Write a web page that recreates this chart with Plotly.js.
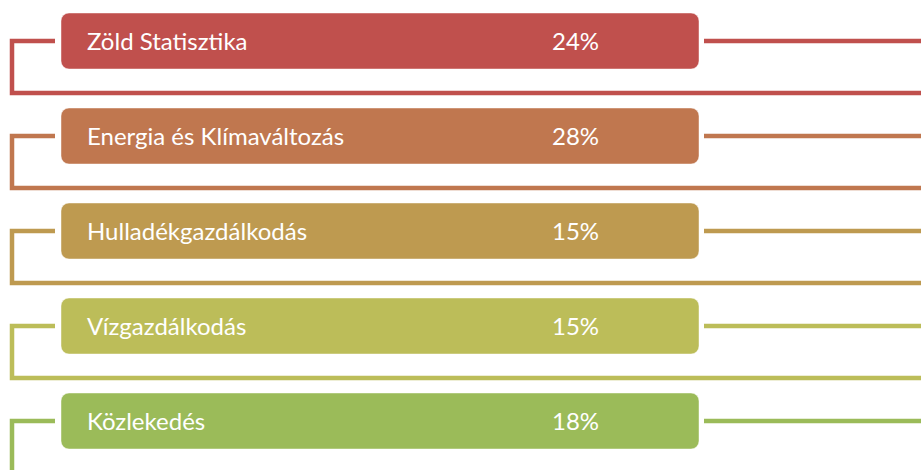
<!DOCTYPE html>
<html><head><meta charset="utf-8">
<script src="https://cdn.plot.ly/plotly-3.0.1.min.js"></script>
<style>html,body{margin:0;padding:0;background:#fff;}#chart{width:921px;height:470px;}</style>
</head><body><div id="chart"></div>
<script>
// Data
const categories = ["Zöld Statisztika", "Energia és Klímaváltozás", "Hulladékgazdálkodás", "Vízgazdálkodás", "Közlekedés"];
const shares = [24, 28, 15, 15, 18];
const colors = ["#C0504D", "#C0774F", "#BE9A50", "#BCBD59", "#9BBB59"];

// Layout geometry (pixel-like x units, row units in y)
const W = 921, H = 470;
const rowPx = 95, firstCenterPx = 41;
const boxLeft = 61, boxRight = 699, boxH = 56 / rowPx;
const stubLeft = 12, stubRight = 55, rightStart = 704;
const drop = 52 / rowPx;
const idx = categories.map((_, i) => i);

const traces = [];
// Boxes as horizontal bars with rounded corners
traces.push({
  type: 'bar', orientation: 'h',
  y: idx, x: idx.map(() => boxRight - boxLeft), base: boxLeft,
  width: boxH,
  marker: { color: colors, cornerradius: 8, line: { color: 'rgba(255,255,255,0.45)', width: 1 } },
  hoverinfo: 'skip', showlegend: false
});
// Connector lines
idx.forEach(i => {
  traces.push({
    type: 'scatter', mode: 'lines',
    x: [stubRight, stubLeft, stubLeft, W + 5],
    y: [i, i, i + drop, i + drop],
    line: { color: colors[i], width: 4.5 },
    hoverinfo: 'skip', showlegend: false
  });
  traces.push({
    type: 'scatter', mode: 'lines',
    x: [rightStart, W + 5], y: [i, i],
    line: { color: colors[i], width: 4.5 },
    hoverinfo: 'skip', showlegend: false
  });
});

const font = { family: 'Lato, "Open Sans", sans-serif', size: 24, color: '#fff' };
const annotations = [];
idx.forEach(i => {
  annotations.push({ x: 85, y: i, xref: 'x', yref: 'y', text: categories[i], showarrow: false,
    xanchor: 'left', yanchor: 'middle', font: font, yshift: 1 });
  annotations.push({ x: 575, y: i, xref: 'x', yref: 'y', text: shares[i] + '%', showarrow: false,
    xanchor: 'center', yanchor: 'middle', font: font, yshift: 1 });
});

const layout = {
  width: W, height: H,
  margin: { l: 0, r: 0, t: 0, b: 0 },
  paper_bgcolor: '#fff', plot_bgcolor: '#fff',
  xaxis: { range: [0, W], visible: false, fixedrange: true },
  yaxis: { range: [(H - firstCenterPx) / rowPx, -firstCenterPx / rowPx], visible: false, fixedrange: true },
  annotations: annotations,
  showlegend: false
};
Plotly.newPlot('chart', traces, layout, { displayModeBar: false, staticPlot: true });
</script></body></html>
